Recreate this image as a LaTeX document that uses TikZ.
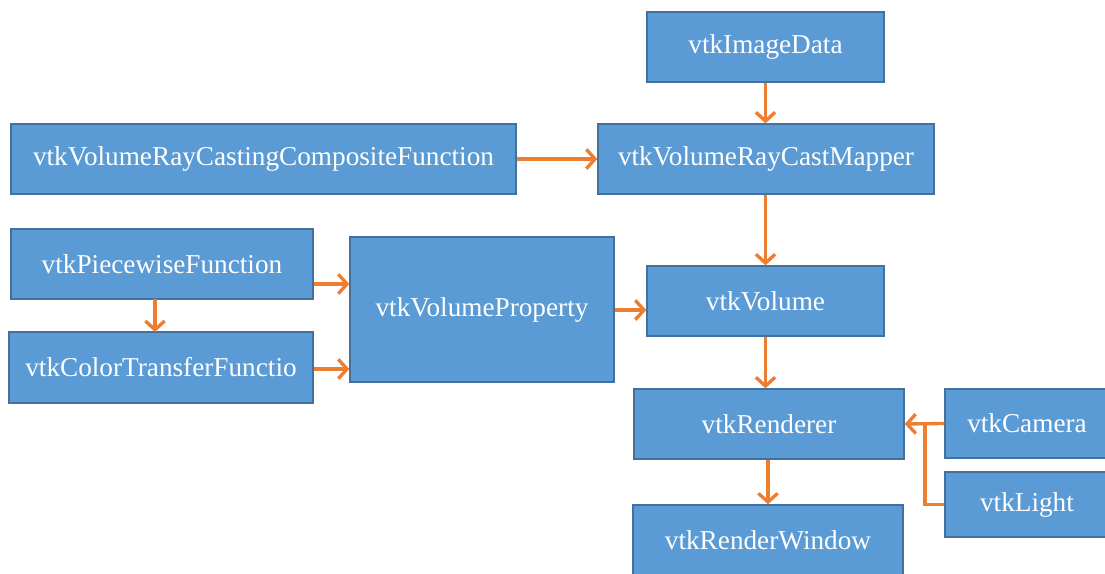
\documentclass[tikz,border=0pt]{standalone}
\usepackage{fontspec}
\setmainfont{Liberation Serif}
\usetikzlibrary{arrows.meta}
\definecolor{boxfill}{HTML}{5B9BD5}
\definecolor{boxline}{HTML}{41719C}
\definecolor{flow}{HTML}{ED7D31}
\begin{document}
\begin{tikzpicture}[x=0.02cm,y=-0.02cm,
  box/.style={draw=boxline, line width=0.8pt, fill=boxfill, text=white,
    font=\fontsize{15.5}{18}\selectfont, inner sep=0pt, minimum height=1.4cm},
  flowarrow/.style={draw=flow, line width=1.9pt, -{Straight Barb[length=5pt,width=11pt,line width=1.9pt]}},
  flowline/.style={draw=flow, line width=1.9pt}]
\useasboundingbox (0,0) rectangle (1105,574);

% boxes
\node[box, minimum width=4.74cm] (img) at (765.5,47) {vtkImageData};
\node[box, minimum width=6.72cm] (mapper) at (766,159) {vtkVolumeRayCastMapper};
\node[box, minimum width=10.1cm] (comp) at (263.5,159) {vtkVolumeRayCastingCompositeFunction};
\node[box, minimum width=6.04cm] (pw) at (162,264) {vtkPiecewiseFunction};
\node[box, minimum width=6.08cm, minimum height=1.42cm] (ctf) at (161,367.5) {vtkColorTransferFunctio};
\node[box, minimum width=5.28cm, minimum height=2.9cm] (prop) at (482,309.5) {vtkVolumeProperty};
\node[box, minimum width=4.74cm] (vol) at (765.5,301) {vtkVolume};
\node[box, minimum width=5.4cm] (ren) at (769,424) {vtkRenderer};
\node[box, minimum width=3.28cm, minimum height=1.38cm] (cam) at (1027,423.5) {vtkCamera};
\node[box, minimum width=3.28cm, minimum height=1.3cm] (light) at (1027,504.5) {vtkLight};
\node[box, minimum width=5.4cm] (win) at (768,540) {vtkRenderWindow};

% connectors (vertical ones keep the x of their source)
\draw[flowarrow] (img.south) -- (img.south |- mapper.north);
\draw[flowarrow] (comp.east) -- (mapper.west);
\draw[flowarrow] (img.south |- mapper.south) -- (img.south |- vol.north);
\draw[flowarrow] (pw.east |- 0,284) -- (prop.west |- 0,284);
\draw[flowarrow] (155,299) -- (155,332);
\draw[flowarrow] (ctf.east |- 0,369) -- (prop.west |- 0,369);
\draw[flowarrow] (prop.east |- 0,310) -- (vol.west |- 0,310);
\draw[flowarrow] (img.south |- vol.south) -- (img.south |- ren.north);
\draw[flowarrow] (cam.west) -- (ren.east);
\coordinate (join) at (925,424);
\draw[flowline] (light.west) -| (join);
\draw[flowarrow] (win.north |- ren.south) -- (win.north);
\end{tikzpicture}
\end{document}
